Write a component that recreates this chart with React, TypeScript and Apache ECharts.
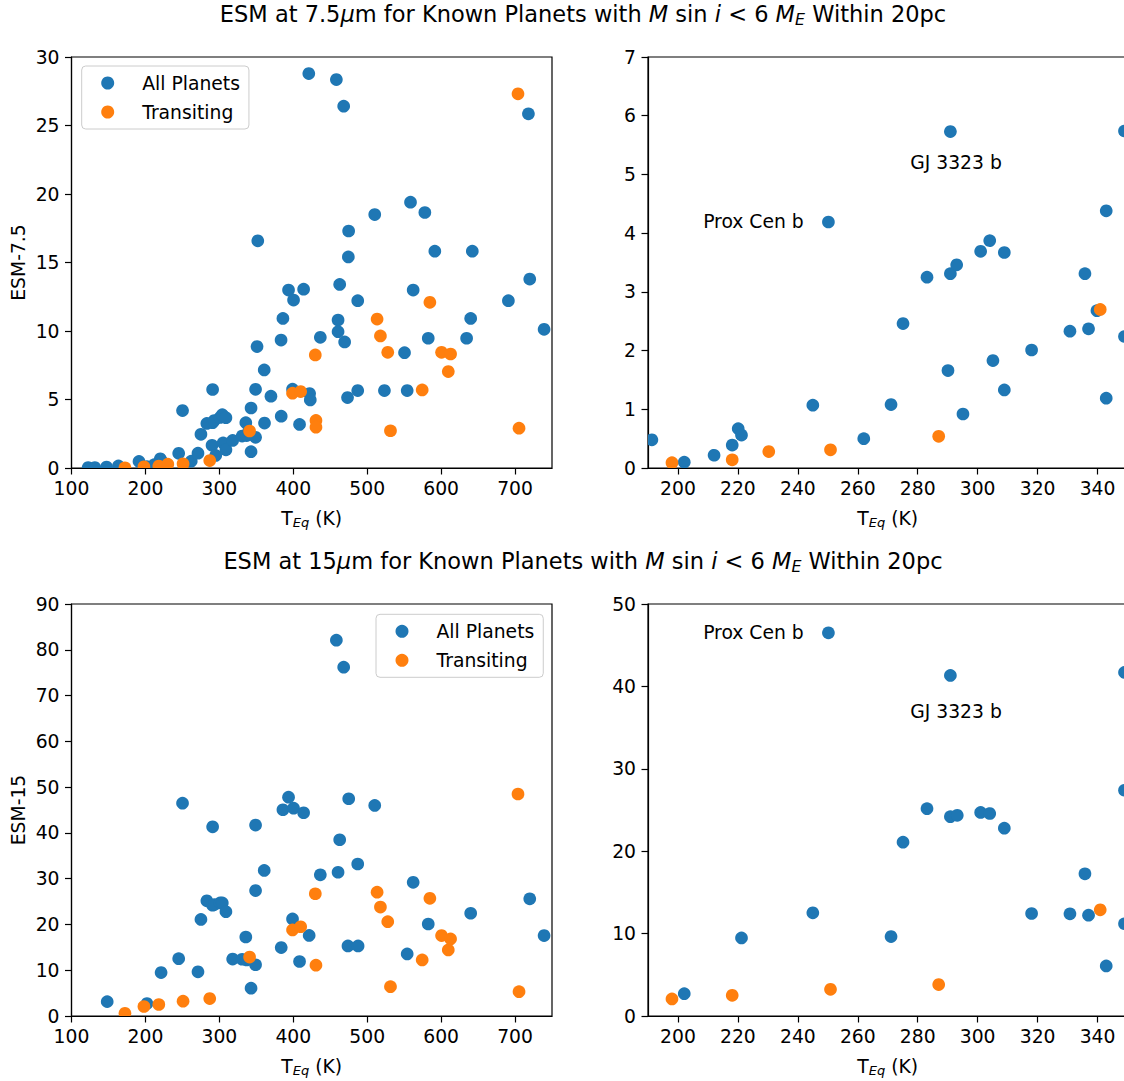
import React, { useEffect, useRef } from "react";
import * as echarts from "echarts";

const FONT = "DejaVu Sans";
const BLUE = "#1f77b4";
const ORANGE = "#ff7f0e";

// [T_eq (K), ESM] at 7.5 micron
const allPlanets75: [number, number][] = [
  [122.5, 0.03], [131.6, 0.03], [147.4, 0.07], [163.5, 0.15],
  [191.3, 0.48], [202.1, 0.1], [212.0, 0.24], [218.1, 0.39], [220.1, 0.67], [221.2, 0.56],
  [245.0, 1.07], [250.2, 4.19], [262.0, 0.5], [271.1, 1.08], [275.1, 2.46], [283.1, 3.25],
  [290.9, 5.73], [290.9, 3.31], [293.0, 3.46], [290.1, 1.66], [295.1, 0.92],
  [301.0, 3.69], [304.0, 3.89], [308.9, 3.67], [305.1, 1.83], [308.9, 1.33],
  [318.0, 2.01], [330.8, 2.33], [335.8, 3.31], [337.0, 2.37], [339.8, 2.68], [342.9, 4.38], [342.9, 1.19],
  [349.0, 5.74], [349.0, 2.24], [352.0, 16.58], [351.0, 8.86],
  [360.7, 7.16], [361.1, 3.28], [369.8, 5.24],
  [383.5, 9.34], [383.7, 3.78], [386.0, 10.92], [393.6, 12.99], [399.0, 5.75], [400.4, 12.26],
  [408.5, 3.18], [414.0, 13.05], [421.0, 28.79], [422.1, 5.43], [423.0, 4.97], [436.6, 9.54],
  [458.3, 28.35], [460.6, 10.8], [460.6, 9.95], [462.8, 13.4], [468.2, 26.41], [469.5, 9.2],
  [473.4, 5.14], [474.9, 17.3], [474.5, 15.41], [487.2, 12.21], [487.2, 5.65],
  [510.2, 18.5], [523.3, 5.65], [550.5, 8.42], [554.1, 5.65], [558.6, 19.4], [562.2, 12.99],
  [578.0, 18.65], [582.6, 9.47], [591.5, 15.83], [634.5, 9.47], [640.0, 10.92], [642.2, 15.83],
  [691.0, 12.21], [718.1, 25.85], [719.9, 13.79], [739.3, 10.12],
];

const transiting75: [number, number][] = [
  [172.3, 0.02], [198.0, 0.09], [218.1, 0.14], [230.3, 0.28], [250.9, 0.31], [287.0, 0.54], [340.9, 2.7],
  [399.0, 5.46], [410.0, 5.58], [429.8, 8.25], [430.7, 3.47], [430.7, 2.98],
  [513.4, 10.87], [517.9, 9.64], [527.8, 8.44], [531.5, 2.72], [574.4, 5.7], [584.8, 12.09],
  [600.6, 8.44], [609.7, 7.04], [612.8, 8.32], [704.0, 27.31], [705.4, 2.91],
];

// [T_eq (K), ESM] at 15 micron
const allPlanets15: [number, number][] = [
  [148.3, 3.14], [202.1, 2.71], [221.2, 9.48], [245.0, 12.52], [250.2, 46.5], [271.1, 9.64], [275.1, 21.1],
  [283.1, 25.16], [290.9, 41.33], [290.9, 24.19], [293.2, 24.35], [301.0, 24.7], [304.0, 24.7], [308.9, 22.8],
  [318.0, 12.44], [330.8, 12.4], [335.8, 17.26], [337.0, 12.24], [342.9, 6.08],
  [349.0, 41.7], [349.0, 27.4], [349.0, 11.2], [360.7, 31.8],
  [383.7, 14.95], [386.0, 45.06], [393.6, 47.8], [399.0, 21.2], [400.4, 45.4], [408.5, 11.9], [414.0, 44.4],
  [421.5, 17.6], [436.6, 30.84], [458.3, 82.1], [460.6, 31.4], [462.8, 38.5], [468.2, 76.2], [474.0, 15.3],
  [475.0, 47.46], [487.2, 33.2], [487.7, 15.3], [510.2, 46.0], [554.1, 13.56], [562.2, 29.2], [582.6, 20.1],
  [640.0, 22.45], [719.9, 25.6], [739.3, 17.57],
];

const transiting15: [number, number][] = [
  [172.3, 0.58], [198.0, 2.07], [218.1, 2.51], [250.9, 3.24], [287.0, 3.81], [340.9, 12.88],
  [399.0, 18.8], [410.0, 19.5], [429.8, 26.7], [430.7, 11.1], [513.4, 27.05], [517.9, 23.8], [527.8, 20.6],
  [531.5, 6.41], [574.4, 12.25], [584.8, 25.7], [600.6, 17.57], [609.7, 14.43], [612.8, 16.84],
  [704.0, 48.5], [705.4, 5.32],
];

// Planet name labels placed in data coordinates of the zoomed panels
const notes75: [number, number, string][] = [
  [208.4, 4.2, "Prox Cen b"],
  [277.5, 5.2, "GJ 3323 b"],
];
const notes15: [number, number, string][] = [
  [208.4, 46.5, "Prox Cen b"],
  [277.5, 36.9, "GJ 3323 b"],
];

const wideTicks = [100, 200, 300, 400, 500, 600, 700];
const zoomTicks = [200, 220, 240, 260, 280, 300, 320, 340];

const seriesNames = ["All Planets", "Transiting"];
const title75 = "ESM at 7.5{it|\u03bc}m for Known Planets with {it|M} sin {it|i} < 6 {it|M}{sub|E} Within 20pc";
const title15 = "ESM at 15{it|\u03bc}m for Known Planets with {it|M} sin {it|i} < 6 {it|M}{sub|E} Within 20pc";

const FS = 18.75;
const TITLE_FS = 22.5;
const DOT_R = 6.35;

const black = { color: "#000", width: 1.2 };

function makeGrid(left: number, top: number, width: number, height: number) {
  return {
    left, top, width, height,
    show: true,
    borderColor: "#000",
    borderWidth: 1.2,
    backgroundColor: "transparent",
    containLabel: false,
    outerBoundsMode: "none",
  };
}

function makeXAxis(gridIndex: number, min: number, max: number, ticks: number[]) {
  return {
    type: "value",
    gridIndex, min, max,
    name: "T{sub|Eq} (K)",
    nameLocation: "middle",
    nameGap: 39,
    nameTextStyle: {
      fontFamily: FONT, fontSize: FS, color: "#000", lineHeight: 22,
      rich: { sub: { fontFamily: FONT, fontSize: 13, fontStyle: "italic", color: "#000", lineHeight: 10, verticalAlign: "bottom" } },
    },
    axisLine: { show: true, onZero: false, lineStyle: black },
    axisTick: { show: true, inside: false, length: 6.5, lineStyle: black, customValues: ticks },
    axisLabel: { show: true, fontFamily: FONT, fontSize: FS, color: "#000", margin: 11, customValues: ticks },
    splitLine: { show: false },
  };
}

function makeYAxis(gridIndex: number, max: number, interval: number, name: string) {
  return {
    type: "value",
    gridIndex, min: 0, max, interval,
    name,
    nameLocation: "middle",
    nameGap: 44,
    nameTextStyle: { fontFamily: FONT, fontSize: FS, color: "#000" },
    axisLine: { show: true, onZero: false, lineStyle: black },
    axisTick: { show: true, inside: false, length: 6.5, lineStyle: black },
    axisLabel: { show: true, fontFamily: FONT, fontSize: FS, color: "#000", margin: 12 },
    splitLine: { show: false },
  };
}

// Filled circles, clipped to the plot area like the axes frame
function dots(name: string, data: [number, number][], idx: number, color: string) {
  return {
    type: "custom",
    name,
    data,
    xAxisIndex: idx,
    yAxisIndex: idx,
    encode: { x: 0, y: 1 },
    clip: true,
    silent: true,
    itemStyle: { color },
    renderItem: (_params: any, api: any) => {
      const p = api.coord([api.value(0), api.value(1)]);
      return {
        type: "circle",
        shape: { cx: p[0], cy: p[1], r: DOT_R },
        style: { fill: color, stroke: "none" },
      };
    },
  };
}

function notes(data: [number, number, string][], idx: number) {
  return {
    type: "custom",
    name: "notes",
    data: data.map(([x, y]) => [x, y]),
    xAxisIndex: idx,
    yAxisIndex: idx,
    encode: { x: 0, y: 1 },
    silent: true,
    renderItem: (params: any, api: any) => {
      const p = api.coord([api.value(0), api.value(1)]);
      return {
        type: "text",
        x: p[0],
        y: p[1],
        style: {
          text: data[params.dataIndex][2],
          fill: "#000",
          fontFamily: FONT,
          fontSize: FS,
          align: "left",
          verticalAlign: "middle",
        },
      };
    },
  };
}

const legendBase = {
  orient: "vertical",
  icon: "circle",
  itemWidth: 13,
  itemHeight: 13,
  itemGap: 9,
  padding: [7, 9, 7, 19.5],
  borderColor: "#cccccc",
  borderWidth: 1,
  borderRadius: 4,
  backgroundColor: "rgba(255,255,255,0.8)",
  selectedMode: false,
  textStyle: { fontFamily: FONT, fontSize: FS, color: "#000", lineHeight: 20, padding: [0, 0, 0, 23] },
  data: [
    { name: seriesNames[0], itemStyle: { color: BLUE } },
    { name: seriesNames[1], itemStyle: { color: ORANGE } },
  ],
};

const titleRich = {
  it: { fontFamily: FONT, fontSize: TITLE_FS, fontStyle: "italic", fill: "#000", lineHeight: 26 },
  sub: { fontFamily: FONT, fontSize: 15.75, fontStyle: "italic", fill: "#000", lineHeight: 12, verticalAlign: "bottom" },
};

function titleText(text: string, y: number) {
  return {
    type: "text",
    x: 583,
    y,
    silent: true,
    style: {
      text,
      rich: titleRich,
      fontFamily: FONT,
      fontSize: TITLE_FS,
      lineHeight: 26,
      fill: "#000",
      align: "center",
      verticalAlign: "middle",
    },
  };
}

const option = {
  animation: false,
  backgroundColor: "#ffffff",
  textStyle: { fontFamily: FONT },
  grid: [
    makeGrid(71.5, 57, 480.5, 411),
    makeGrid(648, 57, 479.5, 411),
    makeGrid(71.5, 604, 480.5, 412),
    makeGrid(648, 604, 479.5, 412),
  ],
  xAxis: [
    makeXAxis(0, 100, 750, wideTicks),
    makeXAxis(1, 190, 350, zoomTicks),
    makeXAxis(2, 100, 750, wideTicks),
    makeXAxis(3, 190, 350, zoomTicks),
  ],
  yAxis: [
    makeYAxis(0, 30, 5, "ESM-7.5"),
    makeYAxis(1, 7, 1, ""),
    makeYAxis(2, 90, 10, "ESM-15"),
    makeYAxis(3, 50, 10, ""),
  ],
  legend: [
    { ...legendBase, left: 81.7, top: 66 },
    { ...legendBase, left: 376, top: 614.3 },
  ],
  graphic: [titleText(title75, 14), titleText(title15, 561)],
  series: [
    dots(seriesNames[0], allPlanets75, 0, BLUE),
    dots(seriesNames[1], transiting75, 0, ORANGE),
    dots(seriesNames[0], allPlanets75, 1, BLUE),
    dots(seriesNames[1], transiting75, 1, ORANGE),
    notes(notes75, 1),
    dots(seriesNames[0], allPlanets15, 2, BLUE),
    dots(seriesNames[1], transiting15, 2, ORANGE),
    dots(seriesNames[0], allPlanets15, 3, BLUE),
    dots(seriesNames[1], transiting15, 3, ORANGE),
    notes(notes15, 3),
  ],
};

export default function App() {
  const ref = useRef<HTMLDivElement>(null);
  useEffect(() => {
    const chart = echarts.init(ref.current!, null, { renderer: "svg" });
    chart.setOption(option as any);
    return () => chart.dispose();
  }, []);
  return (
    <div
      ref={ref}
      style={{ position: "absolute", left: 0, top: 0, width: 1124, height: 1081, overflow: "hidden" }}
    />
  );
}
